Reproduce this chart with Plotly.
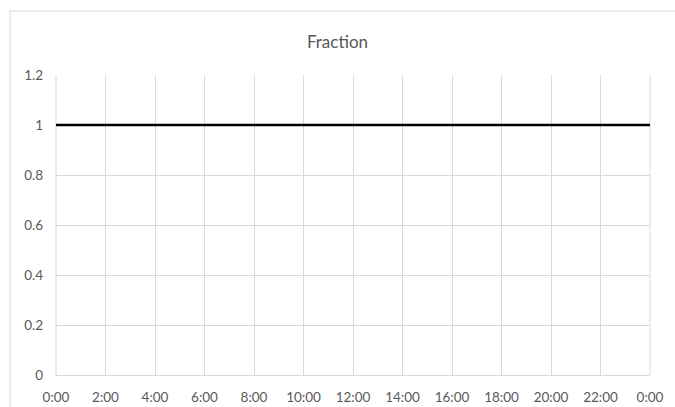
import plotly.graph_objects as go

hours = [0, 2, 4, 6, 8, 10, 12, 14, 16, 18, 20, 22, 24]
tick_labels = ["0:00", "2:00", "4:00", "6:00", "8:00", "10:00", "12:00",
               "14:00", "16:00", "18:00", "20:00", "22:00", "0:00"]
fraction = [1, 1, 1, 1, 1, 1, 1, 1, 1, 1, 1, 1, 1]
y_ticks = [0, 0.2, 0.4, 0.6, 0.8, 1, 1.2]
y_labels = ["0", "0.2", "0.4", "0.6", "0.8", "1", "1.2"]

fig = go.Figure()
fig.add_trace(go.Scatter(
    x=hours, y=fraction, mode="lines",
    line=dict(color="#000000", width=2.5),
    showlegend=False, hoverinfo="skip",
))

axis_font = dict(family="Lato, 'Open Sans', sans-serif", size=13.5, color="#595959")

fig.update_layout(
    width=675, height=407,
    margin=dict(l=56, r=25, t=75, b=32, autoexpand=False),
    paper_bgcolor="white", plot_bgcolor="white",
    title=dict(text="Fraction", x=0.5, xanchor="center", y=1 - 42 / 407, yanchor="middle",
               font=dict(family="Lato, 'Open Sans', sans-serif", size=17, color="#595959")),
    xaxis=dict(
        range=[0, 24], tickmode="array", tickvals=hours, ticktext=tick_labels,
        showgrid=True, gridcolor="#d9d9d9", gridwidth=1,
        showline=True, linecolor="#d9d9d9", linewidth=1, mirror=False,
        zeroline=False, ticks="", tickfont=axis_font, ticklabelstandoff=10,
        automargin=False, fixedrange=True,
    ),
    yaxis=dict(
        range=[0, 1.2], tickmode="array", tickvals=y_ticks, ticktext=y_labels,
        showgrid=True, gridcolor="#d9d9d9", gridwidth=1,
        showline=False, zeroline=False, ticks="", tickfont=axis_font,
        ticklabelstandoff=12, automargin=False, fixedrange=True,
    ),
)

fig.add_shape(type="line", xref="paper", yref="paper", x0=1, x1=1, y0=0, y1=1,
              line=dict(color="#d9d9d9", width=1), layer="below")
fig.add_shape(type="line", xref="paper", yref="paper", x0=0, x1=0, y0=0, y1=1,
              line=dict(color="#d9d9d9", width=1), layer="below")
fig.add_shape(type="rect", xref="paper", yref="paper",
              x0=(10 - 56) / 594, x1=(690 - 56) / 594,
              y0=(375 - 420) / 300, y1=(375 - 11) / 300,
              line=dict(color="#d9d9d9", width=1), fillcolor="rgba(0,0,0,0)", layer="below")

fig.write_html("out.html", config={"displayModeBar": False},
               post_script="document.body.style.margin='0';document.body.style.overflow='hidden';")
